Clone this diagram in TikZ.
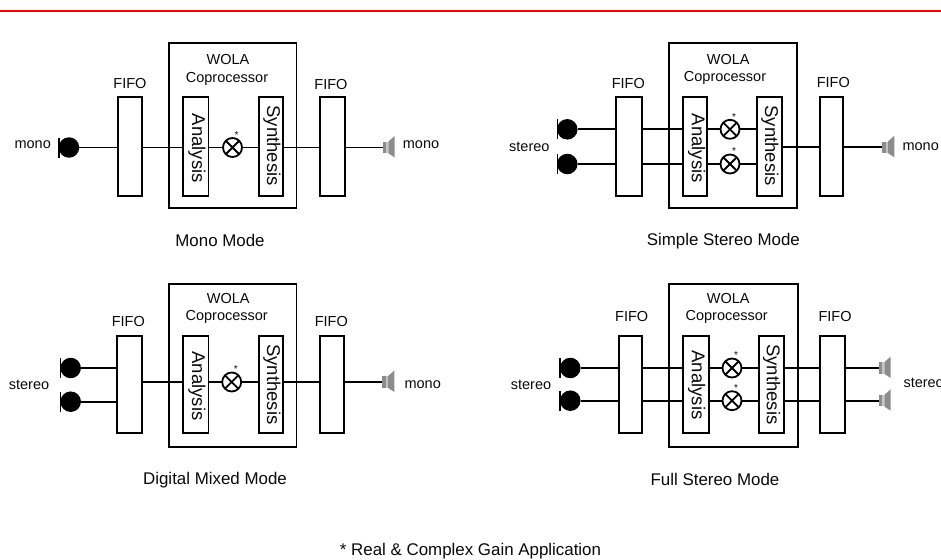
\documentclass[tikz,border=0pt]{standalone}
\usepackage{fontspec}
\setmainfont{Liberation Sans}
\tikzset{
  blk/.style={draw=black,line width=1.8pt,fill=white,inner sep=0pt,outer sep=0pt},
  wire/.style={draw=black,line width=1.8pt},
  micball/.style={circle,fill=black,inner sep=0pt,outer sep=0pt,minimum size=20.5pt},
  micbar/.style={fill=black,inner sep=0pt,outer sep=0pt,minimum width=1.5pt,minimum height=20pt},
  mult/.style={circle,draw=black,line width=1.8pt,fill=white,inner sep=0pt,outer sep=0pt,minimum size=19pt},
  spkbody/.style={fill=spk,inner sep=0pt,outer sep=0pt,minimum width=3.5pt,minimum height=11.5pt},
  lab/.style={inner sep=0pt,font=\fontsize{14.5}{16}\selectfont,text=txt},
  captxt/.style={inner sep=0pt,font=\fontsize{16.9}{19}\selectfont,text=txt},
  vlab/.style={inner sep=0pt,rotate=-90,font=\fontsize{18.5}{20}\selectfont,text=txt},
  ast/.style={inner sep=0pt,font=\fontsize{10}{11}\selectfont,text=txt},
}
\definecolor{spk}{gray}{0.55}
\definecolor{spkl}{gray}{0.78}
\definecolor{txt}{gray}{0.04}
% #1 name, #2 x1, #3 y1, #4 x2, #5 y2
\newcommand{\bx}[5]{\node[blk,minimum width={(#4-#2)*1pt},minimum height={(#5-#3)*1pt}] (#1) at ({(#2+#4)/2},{(#3+#5)/2}) {};}
% #1 name, #2 bar x, #3 ball x, #4 y
\newcommand{\mic}[4]{\node[micbar] (#1b) at (#2,#4) {};\node[micball] (#1) at (#3,#4) {};}
% #1 name, #2 x, #3 y
\newcommand{\mul}[3]{\node[mult] (#1) at (#2,#3) {};
  \draw[line width=1.8pt] (#1.45)--(#1.225) (#1.135)--(#1.315);
  \node[ast] (#1s) at ({#2+4},{#3-12.5}) {*};}
% #1 name, #2 x, #3 y
\newcommand{\spkr}[3]{\node[spkbody] (#1) at ({#2+1.75},#3) {};
  \fill[spkl] ({#2+3.5},{#3-5.75}) rectangle ({#2+5.6},{#3+5.75});
  \fill[spk] ({#2+5.6},{#3-5.8}) -- ({#2+12},{#3-11.5}) -- ({#2+12},{#3+10}) -- ({#2+5.6},{#3+5.8}) -- cycle;}
\begin{document}
\begin{tikzpicture}[x=1pt,y=-1pt]
\useasboundingbox (0,0) rectangle (941,559);
\clip (0,0) rectangle (941,559);
\fill[white] (0,0) rectangle (941,559);
\coordinate (rl) at (0,10.7);
\coordinate (rr) at (941,10.7);
\draw[red,line width=2pt] (rl) -- (rr);

% ---------- Mono Mode
\bx{aO}{169}{43}{296.5}{208}
\bx{aF}{118}{97}{142}{196}
\bx{aA}{183}{97}{208.5}{196}
\bx{aS}{259}{97}{283}{196}
\bx{aG}{320}{97}{345}{196}
\mic{aM}{59}{69}{147.5}
\mul{aX}{232.5}{147.5}
\spkr{aP}{382.7}{147.5}
\draw[wire] (aM.east) -- (aF.west |- aM.east);
\draw[wire] (aF.east |- aX) -- (aA.west |- aX);
\draw[wire] (aA.east |- aX) -- (aX.west);
\draw[wire] (aX.east) -- (aS.west |- aX);
\draw[wire] (aS.east |- aX) -- (aG.west |- aX);
\draw[wire] (aG.east |- aX) -- (aP.west);
\node[lab] (aL1) at (32.7,145) {mono};
\node[lab] (aL2) at (421,145) {mono};
\node[lab] (aL3) at (130,83.3) {FIFO};
\node[lab] (aL4) at (331,85) {FIFO};
\node[lab] (aL5) at (228,60) {WOLA};
\node[lab] (aL6) at (227,78.5) {Coprocessor};
\node[vlab] (aL7) at (197,148.3) {Analysis};
\node[vlab] (aL8) at (272,145.7) {Synthesis};
\node[captxt] (aC) at (220,240) {Mono Mode};

% ---------- Simple Stereo Mode
\bx{bO}{668.7}{43.3}{797}{208.3}
\bx{bF}{616.3}{97.3}{642.3}{196}
\bx{bA}{683.3}{97.3}{707}{196}
\bx{bS}{757.3}{97.3}{782.3}{196}
\bx{bG}{819.7}{97.3}{843.3}{196}
\mic{bM}{557.3}{567.3}{129.3}
\mic{bN}{557.3}{567.3}{164}
\mul{bX}{730}{129.3}
\mul{bY}{730}{164}
\spkr{bP}{882.3}{147.3}
\draw[wire] (bM.east) -- (bF.west |- bM.east);
\draw[wire] (bN.east) -- (bF.west |- bN.east);
\draw[wire] (bF.east |- bX) -- (bA.west |- bX);
\draw[wire] (bF.east |- bY) -- (bA.west |- bY);
\draw[wire] (bA.east |- bX) -- (bX.west);
\draw[wire] (bA.east |- bY) -- (bY.west);
\draw[wire] (bX.east) -- (bS.west |- bX);
\draw[wire] (bY.east) -- (bS.west |- bY);
\draw[wire] (bS.east |- bP) -- (bG.west |- bP);
\draw[wire] (bG.east |- bP) -- (bP.west);
\node[lab] (bL1) at (529.3,146.7) {stereo};
\node[lab] (bL2) at (920.7,146.7) {mono};
\node[lab] (bL3) at (628.3,83.3) {FIFO};
\node[lab] (bL4) at (833.3,83) {FIFO};
\node[lab] (bL5) at (728.3,60) {WOLA};
\node[lab] (bL6) at (725,78.3) {Coprocessor};
\node[vlab] (bL7) at (696.7,148.3) {Analysis};
\node[vlab] (bL8) at (770,145.7) {Synthesis};
\node[captxt] (bC) at (723.3,241.5) {Simple Stereo Mode};

% ---------- Digital Mixed Mode
\bx{cO}{169}{284}{296.5}{446.7}
\bx{cF}{116.7}{336}{142.3}{432.7}
\bx{cA}{183}{336}{208.5}{432.7}
\bx{cS}{259}{336}{283}{432.7}
\bx{cG}{320}{336}{343.7}{432.7}
\mic{cM}{60.7}{70.7}{368}
\mic{cN}{60.7}{70.7}{401.7}
\mul{cX}{231.7}{382}
\spkr{cP}{382.3}{382}
\draw[wire] (cM.east) -- (cF.west |- cM.east);
\draw[wire] (cN.east) -- (cF.west |- cN.east);
\draw[wire] (cF.east |- cX) -- (cA.west |- cX);
\draw[wire] (cA.east |- cX) -- (cX.west);
\draw[wire] (cX.east) -- (cS.west |- cX);
\draw[wire] (cS.east |- cX) -- (cG.west |- cX);
\draw[wire] (cG.east |- cX) -- (cP.west);
\node[lab] (cL1) at (29,385) {stereo};
\node[lab] (cL2) at (422.7,385) {mono};
\node[lab] (cL3) at (128.3,321.7) {FIFO};
\node[lab] (cL4) at (331.3,321.7) {FIFO};
\node[lab] (cL5) at (228.3,299) {WOLA};
\node[lab] (cL6) at (226.7,317) {Coprocessor};
\node[vlab] (cL7) at (197,386) {Analysis};
\node[vlab] (cL8) at (272,384.3) {Synthesis};
\node[captxt] (cC) at (215,480.5) {Digital Mixed Mode};

% ---------- Full Stereo Mode
\bx{dO}{668.7}{284}{798.3}{446.7}
\bx{dF}{618.7}{336}{642.3}{432.7}
\bx{dA}{683.3}{336}{708.7}{432.7}
\bx{dS}{759}{336}{784.3}{432.7}
\bx{dG}{820}{336}{845.3}{432.7}
\mic{dM}{560}{570.3}{368}
\mic{dN}{560}{570.3}{400.7}
\mul{dX}{732}{368}
\mul{dY}{732}{400.7}
\spkr{dP}{878.7}{368}
\spkr{dQ}{878.7}{400.7}
\draw[wire] (dM.east) -- (dF.west |- dM.east);
\draw[wire] (dN.east) -- (dF.west |- dN.east);
\draw[wire] (dF.east |- dX) -- (dA.west |- dX);
\draw[wire] (dF.east |- dY) -- (dA.west |- dY);
\draw[wire] (dA.east |- dX) -- (dX.west);
\draw[wire] (dA.east |- dY) -- (dY.west);
\draw[wire] (dX.east) -- (dS.west |- dX);
\draw[wire] (dY.east) -- (dS.west |- dY);
\draw[wire] (dS.east |- dX) -- (dG.west |- dX);
\draw[wire] (dS.east |- dY) -- (dG.west |- dY);
\draw[wire] (dG.east |- dP) -- (dP.west);
\draw[wire] (dG.east |- dQ) -- (dQ.west);
\node[lab] (dL1) at (531,385.3) {stereo};
\node[lab,anchor=west] (dL2) at (903.3,383.3) {stereo};
\node[lab] (dL3) at (631.7,316.7) {FIFO};
\node[lab] (dL4) at (835,316.7) {FIFO};
\node[lab] (dL5) at (728.3,299) {WOLA};
\node[lab] (dL6) at (726.7,317) {Coprocessor};
\node[vlab] (dL7) at (696.7,385) {Analysis};
\node[vlab] (dL8) at (771.7,384.3) {Synthesis};
\node[captxt] (dC) at (715,479.3) {Full Stereo Mode};

% ---------- Footnote
\node[captxt] (note) at (470.5,551) {* Real \& Complex Gain Application};
\end{tikzpicture}
\end{document}
